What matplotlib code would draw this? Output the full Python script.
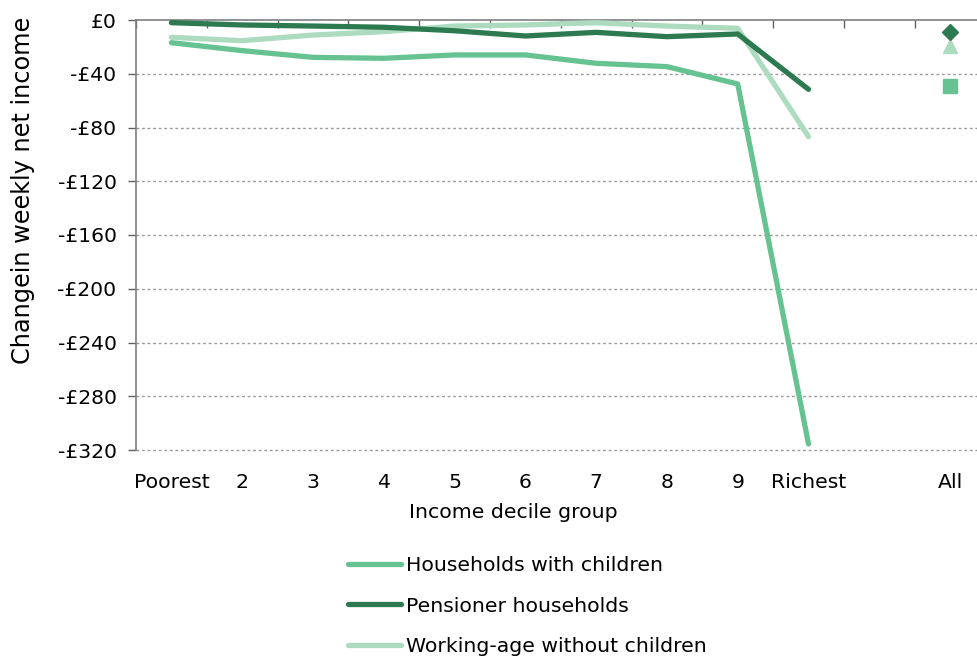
import matplotlib.pyplot as plt
import numpy as np

plt.rcParams['font.family'] = ['DejaVu Sans']

categories = ['Poorest', '2', '3', '4', '5', '6', '7', '8', '9', 'Richest']
with_children = [-16.9, -22.8, -27.8, -28.5, -26.0, -26.0, -32.2, -34.7, -47.6, -315.5]
pensioners = [-2.0, -3.7, -4.5, -5.4, -8.0, -11.9, -9.2, -12.4, -10.4, -51.6]
working_age = [-12.9, -15.4, -11.2, -8.7, -4.5, -3.7, -2.0, -4.5, -6.2, -86.8]
# averages across all households
all_children = -49.0
all_pensioners = -9.3
all_working_age = -19.0

yticks = [0, -40, -80, -120, -160, -200, -240, -280, -320]

c_mid = '#66c391'
c_dark = '#2d7a50'
c_light = '#acdbbf'
fs = 14.7

fig = plt.figure(figsize=(9.77, 6.61), dpi=100)
ax = fig.add_axes([136 / 977, 1 - 450 / 661, 1 - 136 / 977, 430 / 661])

x = np.arange(len(categories))
lw = 3.8
ax.plot(x, with_children, color=c_mid, lw=lw, solid_capstyle='round',
        label='Households with children', zorder=3)
ax.plot(x, pensioners, color=c_dark, lw=lw, solid_capstyle='round',
        label='Pensioner households', zorder=4)
ax.plot(x, working_age, color=c_light, lw=lw, solid_capstyle='round',
        label='Working-age without children', zorder=3)

x_all = len(categories) + 1
ax.plot(x_all, all_children, marker='s', ms=10, color=c_mid, ls='none', zorder=5)
ax.plot(x_all, all_working_age, marker='^', ms=10, color=c_light, ls='none', zorder=5)
ax.plot(x_all, all_pensioners, marker='D', ms=8, color=c_dark, ls='none', zorder=6)

ax.set_xlim(-0.5, 11.38)
ax.set_ylim(-320, 0)

ax.set_xticks(list(x) + [x_all])
ax.set_xticklabels(categories + ['All'])
ax.set_xticks(np.arange(-0.5, 11, 1.0), minor=True)
ax.tick_params(axis='x', which='major', bottom=False, top=False,
               labelsize=fs, pad=13)
ax.tick_params(axis='x', which='minor', bottom=False, top=True,
               direction='in', length=6, width=1, color='#606060')

ax.set_yticks(yticks)
ax.set_yticklabels(['£0' if v == 0 else f'-£{abs(v)}' for v in yticks])
ax.tick_params(axis='y', direction='out', length=6, width=1,
               color='#606060', labelsize=fs, pad=8)

for v in yticks[1:]:
    ax.axhline(v, color='#9a9a9a', lw=1, ls=(0, (2, 2)), zorder=1, clip_on=False)

for side in ['right', 'bottom']:
    ax.spines[side].set_visible(False)
for side in ['top', 'left']:
    ax.spines[side].set_color('#7f7f7f')
    ax.spines[side].set_linewidth(1.2)

fig.text(23 / 977, 1 - 190 / 661, 'Changein weekly net income', rotation=90,
         ha='center', va='center', fontsize=17.3)
fig.text(513 / 977, 1 - 513 / 661, 'Income decile group',
         ha='center', va='center', fontsize=fs)

fig.legend(loc='center left', bbox_to_anchor=(348 / 977, 1 - 606 / 661),
           frameon=False, fontsize=fs, handlelength=2.6, handletextpad=0.25,
           borderpad=0, borderaxespad=0, labelspacing=1.06)

fig.savefig('out.png', dpi=100)
